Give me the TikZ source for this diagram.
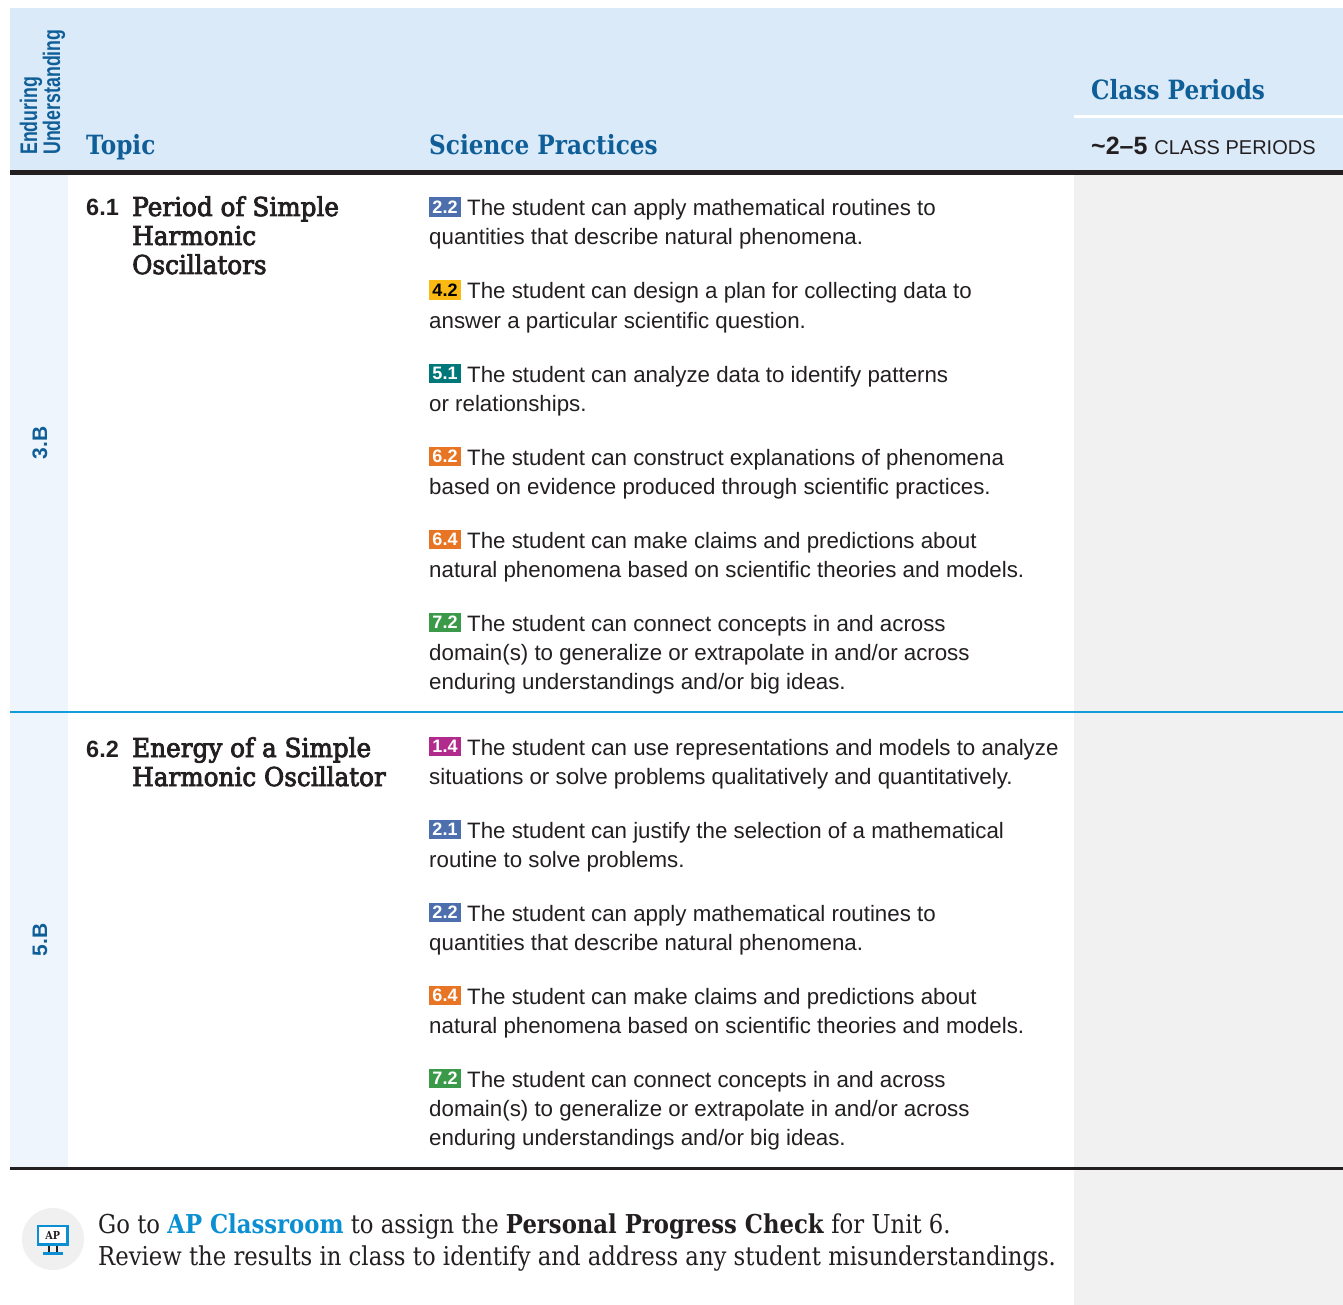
\documentclass[tikz,border=0pt]{standalone}
\usepackage{fontspec}
\setmainfont{Liberation Sans}
\newfontfamily\slab[FakeStretch=0.875]{DejaVu Serif}
\newfontfamily\slabt[FakeStretch=0.95,FakeBold=3]{DejaVu Serif}
\newfontfamily\cond[FakeStretch=0.74]{Liberation Sans}
\definecolor{hdrblue}{HTML}{DAEAF8}
\definecolor{eublue}{HTML}{EEF5FC}
\definecolor{colgray}{HTML}{F1F1F1}
\definecolor{titleblue}{HTML}{0F5E98}
\definecolor{linkblue}{HTML}{0B8FD3}
\definecolor{sepblue}{HTML}{129CDA}
\definecolor{ink}{HTML}{231F20}
\definecolor{bblue}{HTML}{4E6FAE}
\definecolor{byellow}{HTML}{FDB913}
\definecolor{bteal}{HTML}{00787A}
\definecolor{borange}{HTML}{E87524}
\definecolor{bgreen}{HTML}{3B9A49}
\definecolor{bmag}{HTML}{B12A8C}
\definecolor{circgray}{HTML}{F0F0F0}
\newcommand\mlines[1]{\begin{tabular}[t]{@{}l@{}}#1\end{tabular}}
\newcommand\practice[6]{%
  \node[badge, fill=#3, text=#4] (#1b) at (445,#2-8.75) {#5};
  \node[sptext] (#1) at (429,#2) {\mlines{\hspace*{38pt}#6}};
}
\begin{document}
\begin{tikzpicture}[x=1pt,y=-1pt,
  hdr/.style={anchor=base west, inner sep=0, text=titleblue, font=\slab\bfseries\fontsize{26.5}{26.5}\selectfont},
  eu/.style={rotate=90, anchor=base west, inner sep=0, text=titleblue, font=\cond\bfseries\fontsize{24}{24}\selectfont},
  eucode/.style={rotate=90, anchor=center, inner sep=0, text=titleblue, font=\bfseries\fontsize{21}{21}\selectfont},
  num/.style={anchor=base west, inner sep=0, text=ink, font=\bfseries\fontsize{23.5}{23.5}\selectfont},
  ttl/.style={anchor=base west, inner sep=0, text=ink, font=\slabt\fontsize{26}{29}\selectfont},
  sptext/.style={anchor=base west, inner sep=0, text=ink, font=\fontsize{22.3}{29}\selectfont},
  badge/.style={minimum width=32pt, minimum height=19.5pt, inner sep=0, font=\bfseries\fontsize{18}{18}\selectfont}
]
\useasboundingbox (0,0) rectangle (1343,1305);
\fill[white] (0,0) rectangle (1343,1305);
% bands
\fill[hdrblue] (10,8) rectangle (1343,172);
\fill[eublue] (10,175) rectangle (68,1168);
\fill[colgray] (1074,175) rectangle (1343,1305);
\draw[white, line width=3pt] (1074,116.5) -- (1343,116.5);
\draw[ink, line width=4.5pt] (10,172.5) -- (1343,172.5);
\draw[sepblue, line width=2.5pt] (10,712) -- (1343,712);
\draw[ink, line width=3pt] (10,1168) -- (1343,1168);
% header
\node[eu] (eu1) at (37,155) {Enduring};
\node[eu] (eu2) at (60,155) {Understanding};
\node[hdr] (topic) at (86,155) {Topic};
\node[hdr] (sphdr) at (429,155) {Science Practices};
\node[hdr] (cphdr) at (1091,100) {Class Periods};
\node[anchor=base west, inner sep=0, text=ink] (cpnum) at (1091,155)
  {\fontsize{25}{25}\selectfont\bfseries\textasciitilde2–5 \fontsize{20}{20}\selectfont\mdseries CLASS PERIODS};
% EU codes
\node[eucode] (eu3b) at (40,443) {3.B};
\node[eucode] (eu5b) at (40,940) {5.B};
% topics
\node[num] (n61) at (86,216) {6.1};
\node[ttl] (t61) at (132,216) {\mlines{Period of Simple\\Harmonic\\Oscillators}};
\node[num] (n62) at (86,757) {6.2};
\node[ttl] (t62) at (132,757) {\mlines{Energy of a Simple\\Harmonic Oscillator}};
% practices, topic 6.1
\practice{pa}{216}{bblue}{white}{2.2}{The student can apply mathematical routines to\\quantities that describe natural phenomena.}
\practice{pb}{299}{byellow}{black}{4.2}{The student can design a plan for collecting data to\\answer a particular scientific question.}
\practice{pc}{382}{bteal}{white}{5.1}{The student can analyze data to identify patterns\\or relationships.}
\practice{pd}{465}{borange}{white}{6.2}{The student can construct explanations of phenomena\\based on evidence produced through scientific practices.}
\practice{pe}{548}{borange}{white}{6.4}{The student can make claims and predictions about\\natural phenomena based on scientific theories and models.}
\practice{pf}{631}{bgreen}{white}{7.2}{The student can connect concepts in and across\\domain(s) to generalize or extrapolate in and/or across\\enduring understandings and/or big ideas.}
% practices, topic 6.2
\practice{qa}{755}{bmag}{white}{1.4}{The student can use representations and models to analyze\\situations or solve problems qualitatively and quantitatively.}
\practice{qb}{838}{bblue}{white}{2.1}{The student can justify the selection of a mathematical\\routine to solve problems.}
\practice{qc}{921}{bblue}{white}{2.2}{The student can apply mathematical routines to\\quantities that describe natural phenomena.}
\practice{qd}{1004}{borange}{white}{6.4}{The student can make claims and predictions about\\natural phenomena based on scientific theories and models.}
\practice{qe}{1087}{bgreen}{white}{7.2}{The student can connect concepts in and across\\domain(s) to generalize or extrapolate in and/or across\\enduring understandings and/or big ideas.}
% AP classroom icon
\fill[circgray] (53,1239) circle[radius=31pt];
\draw[linkblue, fill=white, line width=2.5pt] (38,1226) rectangle (67.5,1244.5);
\node[inner sep=0, font=\slab\bfseries\fontsize{11}{11}\selectfont, text=ink] (aptxt) at (52.75,1235.5) {AP};
\fill[ink] (47.5,1246) rectangle (50,1252);
\fill[ink] (55.5,1246) rectangle (58,1252);
\fill[linkblue] (42.5,1252) rectangle (63,1255);
\node[anchor=base west, inner sep=0, text=ink, font=\slab\fontsize{26}{32}\selectfont] (cta) at (98,1233)
  {\mlines{Go to \textcolor{linkblue}{\bfseries AP Classroom} to assign the \textbf{Personal Progress Check} for Unit 6.\\Review the results in class to identify and address any student misunderstandings.}};
\end{tikzpicture}
\end{document}
